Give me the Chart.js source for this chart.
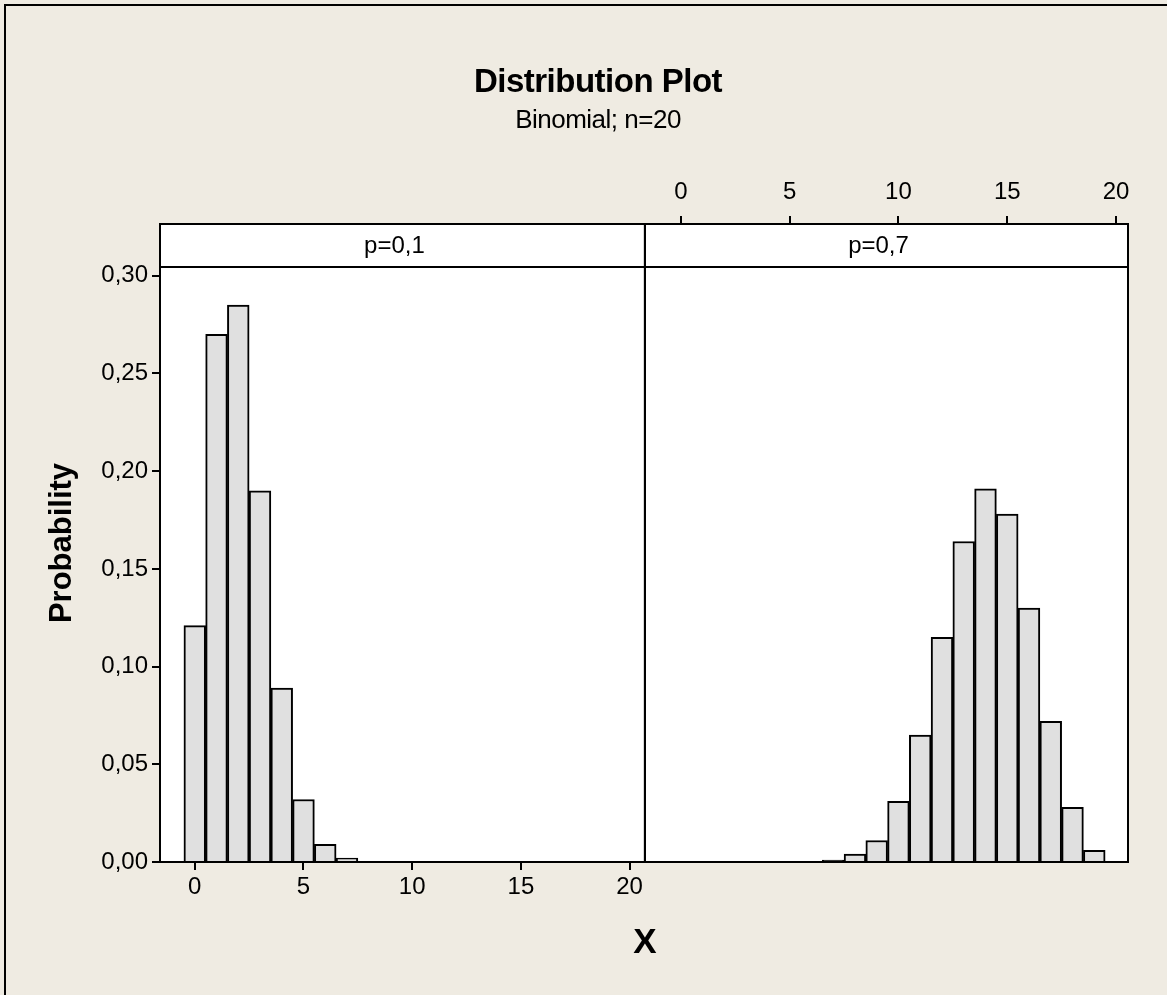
<!DOCTYPE html>
<html>
<head>
<meta charset="utf-8">
<title>Distribution Plot</title>
<script src="https://cdn.jsdelivr.net/npm/chart.js@4.4.0/dist/chart.umd.min.js"></script>
<style>
  html, body { margin: 0; padding: 0; }
  body {
    width: 1167px; height: 995px; overflow: hidden; position: relative;
    background: #efebe2; font-family: 'Liberation Sans', Arial, sans-serif; color: #000;
  }
  #edge { position: absolute; left: 4px; top: 4px; width: 1200px; height: 1100px;
          border-left: 2px solid #000; border-top: 2px solid #000; }
  .txt { position: absolute; white-space: nowrap; line-height: 1; }
  #title { left: 0; width: 1196px; top: 64px; text-align: center; font-weight: bold; font-size: 33px; letter-spacing: -0.5px; }
  #subtitle { left: 0; width: 1196px; top: 106px; text-align: center; font-size: 26px; letter-spacing: -0.5px; }
  #xlabel { left: 545px; width: 200px; top: 923px; text-align: center; font-weight: bold; font-size: 35px; }
  #leftWrap { position: absolute; left: 0; top: 0; width: 646px; height: 995px; }
  #rightWrap { position: absolute; left: 640px; top: 0; width: 527px; height: 995px; }
</style>
</head>
<body>
<div id="edge"></div>
<div id="leftWrap"><canvas id="graficoP01"></canvas></div>
<div id="rightWrap"><canvas id="graficoP07"></canvas></div>
<div class="txt" id="title">Distribution Plot</div>
<div class="txt" id="subtitle">Binomial; n=20</div>
<div class="txt" id="xlabel">X</div>
<script>
// valores
const xValues = [0, 1, 2, 3, 4, 5, 6, 7, 8, 9, 10, 11, 12, 13, 14, 15, 16, 17, 18, 19, 20];
const probP01 = [0.121, 0.270, 0.285, 0.190, 0.089, 0.032, 0.009, 0.002, 0, 0, 0,
                 0, 0, 0, 0, 0, 0, 0, 0, 0, 0];
const probP07 = [0, 0, 0, 0, 0, 0, 0, 0.001, 0.004, 0.011, 0.031, 0.065, 0.115,
                 0.164, 0.191, 0.178, 0.130, 0.072, 0.028, 0.006, 0];
const xTicks = [0, 5, 10, 15, 20];
const yTicks = [0, 0.05, 0.10, 0.15, 0.20, 0.25, 0.30];
const panelLabels = ['p=0,1', 'p=0,7'];

const fonte = "'Liberation Sans', Arial, sans-serif";
const corBarra = '#e0e0e0';

// fundo branco, faixa do painel e moldura
function painelPlugin(label) {
    return {
        id: 'painel',
        beforeDraw(chart) {
            const a = chart.chartArea, ctx = chart.ctx;
            ctx.save();
            ctx.fillStyle = '#fff';
            ctx.fillRect(a.left, a.top, a.right - a.left, a.bottom - a.top);
            ctx.restore();
        },
        afterDatasetsDraw(chart) {
            const a = chart.chartArea, ctx = chart.ctx;
            const h = 43;
            ctx.save();
            ctx.fillStyle = '#fff';
            ctx.fillRect(a.left, a.top, a.right - a.left, h);
            ctx.strokeStyle = '#000';
            ctx.lineWidth = 2;
            ctx.beginPath();
            ctx.moveTo(a.left, a.top + h);
            ctx.lineTo(a.right, a.top + h);
            ctx.stroke();
            ctx.fillStyle = '#000';
            ctx.font = '24px ' + fonte;
            ctx.textAlign = 'center';
            ctx.textBaseline = 'middle';
            ctx.fillText(label, (a.left + a.right) / 2 - 8, a.top + h / 2 + 1);
            ctx.strokeRect(a.left, a.top, a.right - a.left, a.bottom - a.top);
            ctx.restore();
        }
    };
}

function datasetDe(valores) {
    return [{
        data: xValues.map((x, i) => ({ x: x, y: valores[i] })),
        backgroundColor: corBarra,
        borderColor: '#000',
        borderWidth: 2,
        barPercentage: 1.0,
        categoryPercentage: 1.0
    }];
}

const escalaY = {
    min: 0,
    max: 0.3265,
    afterBuildTicks: function (s) { s.ticks = yTicks.map(v => ({ value: v })); },
    ticks: {
        color: '#000',
        padding: 4,
        font: { size: 24, family: fonte },
        callback: function (value) { return value.toFixed(2).replace('.', ','); }
    },
    grid: { drawOnChartArea: false, drawTicks: true, tickLength: 8, color: '#000', lineWidth: 2 },
    border: { display: true, color: '#000', width: 2 }
};

function escalaX(posicao, min, max) {
    return {
        type: 'linear',
        position: posicao,
        min: min,
        max: max,
        offset: false,
        afterBuildTicks: function (s) { s.ticks = xTicks.map(v => ({ value: v })); },
        ticks: {
            color: '#000',
            padding: posicao === 'top' ? 9 : 3,
            maxRotation: 0,
            font: { size: 24, family: fonte },
            callback: function (value) { return value; }
        },
        grid: { offset: false, drawOnChartArea: false, drawTicks: true, tickLength: 8, color: '#000', lineWidth: 2 },
        border: { display: true, color: '#000', width: 2 }
    };
}

const ctxP01 = document.getElementById('graficoP01').getContext('2d');
const graficoP01 = new Chart(ctxP01, {
    type: 'bar',
    data: { datasets: datasetDe(probP01) },
    options: {
        responsive: true,
        maintainAspectRatio: false,
        animation: false,
        layout: { padding: { left: 0, top: 224, right: 1, bottom: 0 } },
        scales: {
            x: Object.assign(escalaX('bottom', -1.6, 20.7), {
                afterFit: function (s) { s.height = 133; }
            }),
            y: Object.assign({}, escalaY, {
                afterFit: function (s) { s.width = 160; },
                title: {
                    display: true,
                    text: 'Probability',
                    color: '#000',
                    font: { size: 31, weight: 'bold', family: fonte },
                    padding: { top: 44, bottom: 0 }
                }
            })
        },
        plugins: { legend: { display: false }, tooltip: { enabled: false } }
    },
    plugins: [painelPlugin(panelLabels[0])]
});

const ctxP07 = document.getElementById('graficoP07').getContext('2d');
const graficoP07 = new Chart(ctxP07, {
    type: 'bar',
    data: { datasets: datasetDe(probP07) },
    options: {
        responsive: true,
        maintainAspectRatio: false,
        animation: false,
        layout: { padding: { left: 5, top: 0, right: 39, bottom: 133 } },
        scales: {
            x: Object.assign(escalaX('top', -1.65, 20.55), {
                afterFit: function (s) { s.height = 224; }
            }),
            y: Object.assign({}, escalaY, { display: false })
        },
        plugins: { legend: { display: false }, tooltip: { enabled: false } }
    },
    plugins: [painelPlugin(panelLabels[1])]
});
</script>
</body>
</html>
